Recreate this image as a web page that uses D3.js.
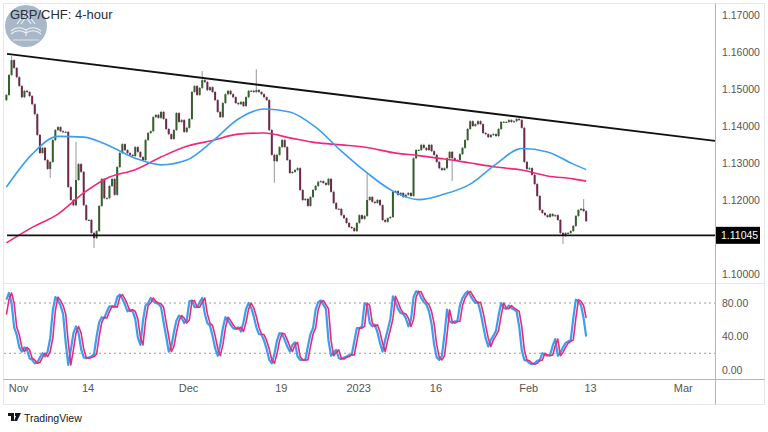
<!DOCTYPE html>
<html><head><meta charset="utf-8">
<script src="https://cdn.jsdelivr.net/npm/d3@7"></script>
<style>
body{margin:0;background:#fff;}
svg{display:block;font-family:"Liberation Sans Narrow","Liberation Sans","DejaVu Sans Condensed",sans-serif;}
</style>
</head><body>
<svg id="c" width="768" height="432"></svg>
<script>
// ---------------- DATA ----------------
const title = "GBP/CHF: 4-hour";
const barStartDay = -1.5;      // trading-day index of first bar (Nov 1 = 0)
const barsPerDay = 3;
const firstOpen = 1.1470;
const closes = [
1.1484,1.1538,1.1578,1.1557,1.1532,1.1508,1.1478,1.1495,1.1492,1.1481,
1.1459,1.1432,1.1376,1.1327,1.1341,1.1308,1.1284,1.1303,1.1362,1.1389,
1.1397,1.1386,1.1384,1.1384,1.1235,1.1200,1.1186,1.1254,1.1297,1.1276,
1.1186,1.1146,1.1146,1.1111,1.1097,1.1116,1.1184,1.1257,1.1205,1.1205,
1.1238,1.1257,1.1214,1.1289,1.1327,1.1351,1.1335,1.1327,1.1322,1.1319,
1.1343,1.1330,1.1316,1.1308,1.1362,1.1381,1.1386,1.1424,1.1430,1.1422,
1.1438,1.1419,1.1392,1.1378,1.1365,1.1389,1.1435,1.1411,1.1416,1.1384,
1.1395,1.1419,1.1492,1.1508,1.1484,1.1503,1.1524,1.1519,1.1497,1.1505,
1.1492,1.1470,1.1438,1.1424,1.1462,1.1486,1.1495,1.1486,1.1478,1.1462,
1.1459,1.1465,1.1454,1.1478,1.1495,1.1495,1.1492,1.1497,1.1492,1.1486,
1.1478,1.1470,1.1389,1.1322,1.1305,1.1322,1.1343,1.1362,1.1343,1.1308,
1.1273,1.1276,1.1281,1.1286,1.1227,1.1200,1.1203,1.1184,1.1208,1.1227,
1.1238,1.1249,1.1251,1.1246,1.1241,1.1257,1.1222,1.1192,1.1176,1.1176,
1.1159,1.1151,1.1138,1.1127,1.1124,1.1116,1.1138,1.1159,1.1149,1.1157,
1.1200,1.1208,1.1195,1.1192,1.1200,1.1186,1.1146,1.1141,1.1151,1.1154,
1.1222,1.1224,1.1214,1.1219,1.1208,1.1214,1.1219,1.1211,1.1313,1.1335,
1.1335,1.1349,1.1341,1.1335,1.1349,1.1332,1.1322,1.1303,1.1286,1.1281,
1.1286,1.1313,1.1330,1.1313,1.1308,1.1308,1.1324,1.1341,1.1362,1.1392,
1.1413,1.1400,1.1405,1.1413,1.1405,1.1381,1.1378,1.1370,1.1376,1.1378,
1.1373,1.1392,1.1411,1.1411,1.1411,1.1416,1.1411,1.1413,1.1419,1.1416,
1.1395,1.1303,1.1284,1.1286,1.1268,1.1243,1.1211,1.1173,1.1165,1.1159,
1.1154,1.1162,1.1157,1.1159,1.1146,1.1111,1.1103,1.1111,1.1111,1.1116,
1.1130,1.1157,1.1173,1.1176,1.1170,1.1143];
const highWickBars = [2, 27, 76, 97, 140, 224];
const highWickVals = [1.1586, 1.1354, 1.1546, 1.1551, 1.1273, 1.1200];
const lowWickBars  = [17, 34, 104, 173, 216];
const lowWickVals  = [1.1262, 1.1073, 1.1249, 1.1254, 1.1084];

const maBars = [0,10,20,30,40,50,60,70,80,90,100,110,120,130,140,150,160,170,180,190,200,210,220,225];
const maBlue = [1.1235,1.1324,1.1372,1.1370,1.1346,1.1313,1.1295,1.1308,1.1359,1.1419,1.1446,1.1438,
                1.1397,1.1332,1.1273,1.1224,1.1201,1.1216,1.1243,1.1297,1.1339,1.1330,1.1297,1.1282];
const maPink = [1.1084,1.1126,1.1162,1.1219,1.1262,1.1282,1.1316,1.1345,1.1361,1.1378,1.1381,1.1368,
                1.1355,1.1349,1.1342,1.1328,1.1320,1.1311,1.1300,1.1289,1.1281,1.1265,1.1257,1.1251];

const stochD = [
66,84,92,80,51,42,27,22,27,24, 14,12,8,9,15,20,16,22,38,71, 87,83,77,67,33,6,24,44,52,44,
25,15,14,15,16,19,40,57,63,62, 70,76,76,75,87,90,85,78,70,72, 70,61,39,30,59,77,80,86,82,80,
79,75,57,40,22,28,45,59,65,62, 56,60,82,83,75,75,81,86,67,56, 53,41,26,17,30,50,63,59,54,50,
49,51,46,57,73,80,74,64,51,43, 42,35,25,12,8,19,35,44,43,36, 28,22,30,33,16,12,12,12,28,43,
50,72,81,83,78,73,35,17,21,24, 14,13,15,16,18,18,34,50,50,52, 80,77,56,52,54,45,32,22,36,48,
61,88,81,73,68,67,62,52,60,87, 94,93,86,81,78,70,55,30,15,12, 17,42,72,58,56,58,58,77,86,91,
94,89,84,80,81,69,53,38,28,36, 41,47,65,80,74,73,77,74,72,70, 52,24,12,11,8,7,8,11,12,20,
18,17,18,29,37,17,21,27,32,34, 36,62,84,82,77,62];
const stochK = [
84,92,80,51,42,27,22,27,24,14, 12,8,9,15,20,16,22,38,71,87, 83,77,67,33,6,24,44,52,44,25,
15,14,15,16,19,40,57,63,62,70, 76,76,75,87,90,85,78,70,72,70, 61,39,30,59,77,80,86,82,80,79,
75,57,40,22,28,45,59,65,62,56, 60,82,83,75,75,81,86,67,56,53, 41,26,17,30,50,63,59,54,50,49,
51,46,57,73,80,74,64,51,43,42, 35,25,12,8,19,35,44,43,36,28, 22,30,33,16,12,12,12,28,43,50,
72,81,83,78,73,35,17,21,24,14, 13,15,16,18,18,34,50,50,52,80, 77,56,52,54,45,32,22,36,48,61,
88,81,73,68,67,62,52,60,87,94, 93,86,81,78,70,55,30,15,12,17, 42,72,58,56,58,58,77,86,91,94,
89,84,80,81,69,53,38,28,36,41, 47,65,80,74,73,77,74,72,70,52, 24,12,11,8,7,8,11,12,20,18,
17,18,29,37,17,21,27,32,34,36, 62,84,82,77,62,40];

const priceTicks = [1.10,1.12,1.13,1.14,1.15,1.16,1.17];
const stochTicks = [0,40,80];
const stochLevels = [20,80];
const timeLabels = ["Nov","14","Dec","19","2023","16","Feb","13","Mar"];
const timeDays   = [0,9,22,34,44,54,66,74,86];

const trendDays   = [-1.42, 90.2];
const trendPrices = [1.1595, 1.13595];
const supportPrice = 1.11045;

// ---------------- LAYOUT ----------------
const svg = d3.select("#c");
const axisX = 715, frameL = 3.5, frameR = 764.5, frameT = 3.5, frameB = 404.5;
const mainTop = 4, mainBot = 283, stTop = 284, stBot = 379;

const x = d3.scaleLinear().domain([0, 86]).range([18, 682.8]);
const y = d3.scaleLinear().domain([1.10, 1.17]).range([274, 15]);
const ys = d3.scaleLinear().domain([0, 100]).range([370, 286.25]);
const bx = i => x(barStartDay + i / barsPerDay);

// clip paths
const defs = svg.append("defs");
defs.append("clipPath").attr("id","mainClip").append("rect")
  .attr("x",4).attr("y",mainTop).attr("width",axisX-4).attr("height",mainBot-mainTop);
defs.append("clipPath").attr("id","stClip").append("rect")
  .attr("x",4).attr("y",stTop).attr("width",axisX-4).attr("height",stBot-stTop);

// logo watermark (graphic only)
const logo = svg.append("g");
logo.append("circle").attr("cx",26).attr("cy",26).attr("r",21).attr("fill","#a8b8c8");
logo.append("path")
  .attr("d","M11,31 Q18,25 26,30 Q34,25 41,31 M11,34 Q18,28 26,33 Q34,28 41,34 M26,30 L26,36 M17,24 L26,12 L35,24 M21,24 L26,17 L31,24")
  .attr("fill","none").attr("stroke","#eef2f6").attr("stroke-width",1.1);
logo.append("path").attr("d","M13,40 L39,40").attr("stroke","#eef2f6").attr("stroke-width",0.8);

svg.append("text").attr("x",10).attr("y",19).attr("font-size",13).attr("fill","#2a2e39")
  .text(title);

// ---------------- MAIN PANE ----------------
const main = svg.append("g").attr("clip-path","url(#mainClip)");

// candles
const bars = closes.map((c,i) => {
  const o = i === 0 ? firstOpen : closes[i-1];
  let h = Math.max(o,c), l = Math.min(o,c);
  const hi = highWickBars.indexOf(i); if (hi >= 0) h = highWickVals[hi];
  const li = lowWickBars.indexOf(i);  if (li >= 0) l = lowWickVals[li];
  return {i,o,c,h,l};
});
main.append("g").selectAll("line").data(bars).join("line")
  .attr("x1",d=>bx(d.i)).attr("x2",d=>bx(d.i))
  .attr("y1",d=>y(d.h)-1).attr("y2",d=>y(d.l)+1)
  .attr("stroke","#a8a8a8").attr("stroke-width",1.2);
main.append("g").selectAll("rect").data(bars).join("rect")
  .attr("x",d=>bx(d.i)-1).attr("width",2)
  .attr("y",d=>y(Math.max(d.o,d.c)))
  .attr("height",d=>Math.max(1, Math.abs(y(d.o)-y(d.c))))
  .attr("fill",d=> d.c >= d.o ? "#355f2c" : "#6b2949");

// moving averages
const maLine = vals => d3.line().curve(d3.curveMonotoneX)
  .x((v,k)=>bx(maBars[k])).y(v=>y(v))(vals);
main.append("path").attr("d",maLine(maPink)).attr("fill","none")
  .attr("stroke","#f0287a").attr("stroke-width",1.6);
main.append("path").attr("d",maLine(maBlue)).attr("fill","none")
  .attr("stroke","#3d9ef0").attr("stroke-width",1.6);

// trendlines
main.append("line")
  .attr("x1",x(trendDays[0])).attr("y1",y(trendPrices[0]))
  .attr("x2",x(trendDays[1])).attr("y2",y(trendPrices[1]))
  .attr("stroke","#111").attr("stroke-width",1.8);
main.append("line")
  .attr("x1",x(trendDays[0])).attr("x2",axisX)
  .attr("y1",y(supportPrice)).attr("y2",y(supportPrice))
  .attr("stroke","#111").attr("stroke-width",1.8);

// ---------------- STOCH PANE ----------------
const st = svg.append("g").attr("clip-path","url(#stClip)");
st.selectAll("line.lvl").data(stochLevels).join("line").attr("class","lvl")
  .attr("x1",4).attr("x2",axisX).attr("y1",d=>ys(d)).attr("y2",d=>ys(d))
  .attr("stroke","#9a9a9a").attr("stroke-dasharray","2,3").attr("stroke-width",1);
const stLine = vals => d3.line().x((v,i)=>bx(i)).y(v=>ys(v))(vals);
st.append("path").attr("d",stLine(stochK)).attr("fill","none")
  .attr("stroke","#3d9ef0").attr("stroke-width",2.2).attr("stroke-linejoin","round");
st.append("path").attr("d",stLine(stochD)).attr("fill","none")
  .attr("stroke","#ea2a7a").attr("stroke-width",1.6).attr("stroke-linejoin","round");

// ---------------- FRAME & AXES ----------------
svg.append("rect").attr("x",frameL).attr("y",frameT).attr("width",frameR-frameL).attr("height",frameB-frameT)
  .attr("fill","none").attr("stroke","#e6e8ee");
svg.append("line").attr("x1",frameL).attr("x2",frameR).attr("y1",283.5).attr("y2",283.5)
  .attr("stroke","#e6e8ee");
svg.append("line").attr("x1",frameL).attr("x2",frameR).attr("y1",379.5).attr("y2",379.5)
  .attr("stroke","#b2b5be");
svg.append("line").attr("x1",axisX+0.5).attr("x2",axisX+0.5).attr("y1",frameT).attr("y2",frameB)
  .attr("stroke","#b2b5be");

// price axis
const pa = svg.append("g").attr("transform",`translate(${axisX},0)`)
  .call(d3.axisRight(y).tickValues(priceTicks).tickSize(0).tickPadding(7).tickFormat(d=>d.toFixed(5)));
pa.select(".domain").remove();
pa.selectAll("text").attr("font-size",10.5).attr("fill","#555").attr("font-family",null);

// support label
svg.append("rect").attr("x",axisX+1).attr("y",y(supportPrice)-8.5).attr("width",44).attr("height",17)
  .attr("fill","#000");
svg.append("text").attr("x",axisX+6).attr("y",y(supportPrice)).attr("dy","0.35em")
  .attr("font-size",10.5).attr("fill","#fff").text(supportPrice.toFixed(5));

// stoch axis
const sa = svg.append("g").attr("transform",`translate(${axisX},0)`)
  .call(d3.axisRight(ys).tickValues(stochTicks).tickSize(0).tickPadding(7).tickFormat(d=>d.toFixed(2)));
sa.select(".domain").remove();
sa.selectAll("text").attr("font-size",10.5).attr("fill","#555").attr("font-family",null);

// time axis
const ta = svg.append("g").attr("transform","translate(0,384)")
  .call(d3.axisBottom(x).tickValues(timeDays).tickSize(0).tickPadding(0)
    .tickFormat((d,i)=>timeLabels[i]));
ta.select(".domain").remove();
ta.selectAll("text").attr("font-size",11).attr("fill","#555").attr("font-family",null).attr("dy","0.71em");

// TradingView mark
const tv = svg.append("g").attr("transform","translate(8,412)");
tv.append("path").attr("d","M0,1 H6 V9 H3 V4 H0 Z M7,1 H13 L9,9 H6 L8,4 H7 Z").attr("fill","#131722");
tv.append("text").attr("x",16).attr("y",9.5).attr("font-size",10.5).attr("fill","#131722").text("TradingView");
</script>
</body></html>
